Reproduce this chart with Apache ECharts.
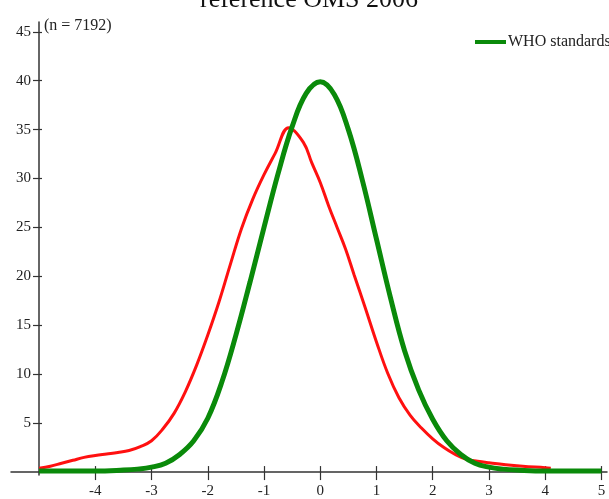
<!DOCTYPE html>
<html>
<head>
<meta charset="utf-8">
<script src="https://cdn.jsdelivr.net/npm/echarts@6/dist/echarts.min.js"></script>
<style>
html,body{margin:0;padding:0;background:#fff;}
#chart{width:609px;height:499px;}
</style>
</head>
<body>
<div id="chart"></div>
<script>
// ---- data ----
const titleText = 'reference OMS 2006';
const sampleNote = '(n = 7192)';
const whoName = 'WHO standards';
const obsName = 'Observed';

const xTicks = [-4, -3, -2, -1, 0, 1, 2, 3, 4, 5];
const yTicks = [5, 10, 15, 20, 25, 30, 35, 40, 45];

const whoZ = [-5.0, -4.5, -4.0, -3.5, -3.25, -3.0, -2.75, -2.5, -2.25, -2.0, -1.75, -1.5, -1.25, -1.0, -0.75, -0.5, -0.25, 0.0, 0.25, 0.5, 0.75, 1.0, 1.25, 1.5, 1.75, 2.0, 2.25, 2.5, 2.75, 3.0, 3.25, 3.5, 4.0, 4.5, 5.0];
const whoPct = [0.1, 0.1, 0.1, 0.2, 0.3, 0.5, 0.9, 1.8, 3.2, 5.5, 9.2, 14.0, 19.4, 25.0, 30.5, 35.3, 38.7, 39.9, 38.6, 35.0, 29.8, 23.8, 17.8, 12.4, 8.4, 5.4, 3.2, 1.8, 0.9, 0.5, 0.3, 0.2, 0.1, 0.1, 0.1];

const obsZ = [-5.0, -4.8, -4.6, -4.4, -4.2, -4.0, -3.8, -3.6, -3.4, -3.2, -3.0, -2.8, -2.6, -2.4, -2.2, -2.0, -1.8, -1.6, -1.4, -1.2, -1.0, -0.8, -0.56, -0.3, -0.15, 0.0, 0.15, 0.3, 0.45, 0.6, 0.8, 1.0, 1.2, 1.4, 1.6, 1.8, 2.0, 2.2, 2.4, 2.6, 2.8, 3.0, 3.3, 3.6, 4.0, 4.1];
const obsPct = [0.4, 0.6, 0.9, 1.2, 1.5, 1.7, 1.85, 2.0, 2.2, 2.6, 3.2, 4.4, 6.0, 8.2, 10.9, 14.0, 17.4, 21.2, 24.9, 27.9, 30.4, 32.6, 35.2, 33.7, 31.6, 29.6, 27.2, 25.0, 22.8, 20.2, 16.8, 13.3, 10.1, 7.6, 5.8, 4.5, 3.4, 2.5, 1.8, 1.3, 1.1, 0.95, 0.75, 0.6, 0.45, 0.4];

// ---- chart ----
const serif = '"Liberation Serif", "DejaVu Serif", serif';
const pairs = (xs, ys) => xs.map((x, i) => [x, ys[i]]);

const chart = echarts.init(document.getElementById('chart'));
const axisColor = '#333';

const xBase = {
  type: 'value', min: -5.5, max: 5.1, position: 'bottom', gridIndex: 0,
  splitLine: { show: false }
};
const yBase = {
  type: 'value', min: -0.3, max: 46, position: 'left', offset: -28, gridIndex: 0,
  splitLine: { show: false }
};

chart.setOption({
  animation: false,
  backgroundColor: '#fff',
  title: [
    {
      text: titleText, left: 195, top: -18,
      textStyle: { fontFamily: serif, fontSize: 26, fontWeight: 'normal', color: '#111' }
    },
    {
      text: sampleNote, left: 39, top: 13,
      textStyle: { fontFamily: serif, fontSize: 16, fontWeight: 'normal', color: '#222' }
    }
  ],
  legend: {
    data: [whoName], left: 470, top: 29, icon: 'rect',
    itemWidth: 31, itemHeight: 4, itemGap: 4,
    textStyle: { fontFamily: serif, fontSize: 16, color: '#222', padding: [0, 0, 0, -3] }
  },
  grid: { left: 11, right: 2, top: 22, bottom: 0, containLabel: false },
  xAxis: [
    Object.assign({}, xBase, {
      axisLine: { show: true, onZero: true, lineStyle: { color: axisColor, width: 1.5 } },
      axisTick: { show: true, inside: false, length: 8, customValues: xTicks, lineStyle: { color: axisColor, width: 1.2 } },
      axisLabel: { show: true, customValues: xTicks, margin: 9, fontFamily: serif, fontSize: 15, color: '#222' }
    }),
    Object.assign({}, xBase, {
      axisLine: { show: true, onZero: true, lineStyle: { color: axisColor, opacity: 0 } },
      axisTick: { show: true, inside: true, length: 6, customValues: xTicks, lineStyle: { color: axisColor, width: 1.2 } },
      axisLabel: { show: false }
    })
  ],
  yAxis: [
    Object.assign({}, yBase, {
      axisLine: { show: true, onZero: false, lineStyle: { color: axisColor, width: 1.5 } },
      axisTick: { show: true, inside: false, length: 6, customValues: yTicks, lineStyle: { color: axisColor, width: 1.2 } },
      axisLabel: { show: true, customValues: yTicks, margin: 8, fontFamily: serif, fontSize: 15, color: '#222' }
    }),
    Object.assign({}, yBase, {
      axisLine: { show: true, onZero: false, lineStyle: { color: axisColor, opacity: 0 } },
      axisTick: { show: true, inside: true, length: 3, customValues: yTicks, lineStyle: { color: axisColor, width: 1.2 } },
      axisLabel: { show: false }
    })
  ],
  series: [
    {
      name: obsName, type: 'line', xAxisIndex: 0, yAxisIndex: 0,
      data: pairs(obsZ, obsPct), smooth: 0.4, showSymbol: false,
      lineStyle: { color: '#ff1010', width: 3 }, itemStyle: { color: '#ff1010' }, z: 3
    },
    {
      name: whoName, type: 'line', xAxisIndex: 0, yAxisIndex: 0,
      data: pairs(whoZ, whoPct), smooth: 0.4, showSymbol: false,
      lineStyle: { color: '#0a8a0a', width: 5 }, itemStyle: { color: '#0a8a0a' }, z: 4
    }
  ]
});
</script>
</body>
</html>
